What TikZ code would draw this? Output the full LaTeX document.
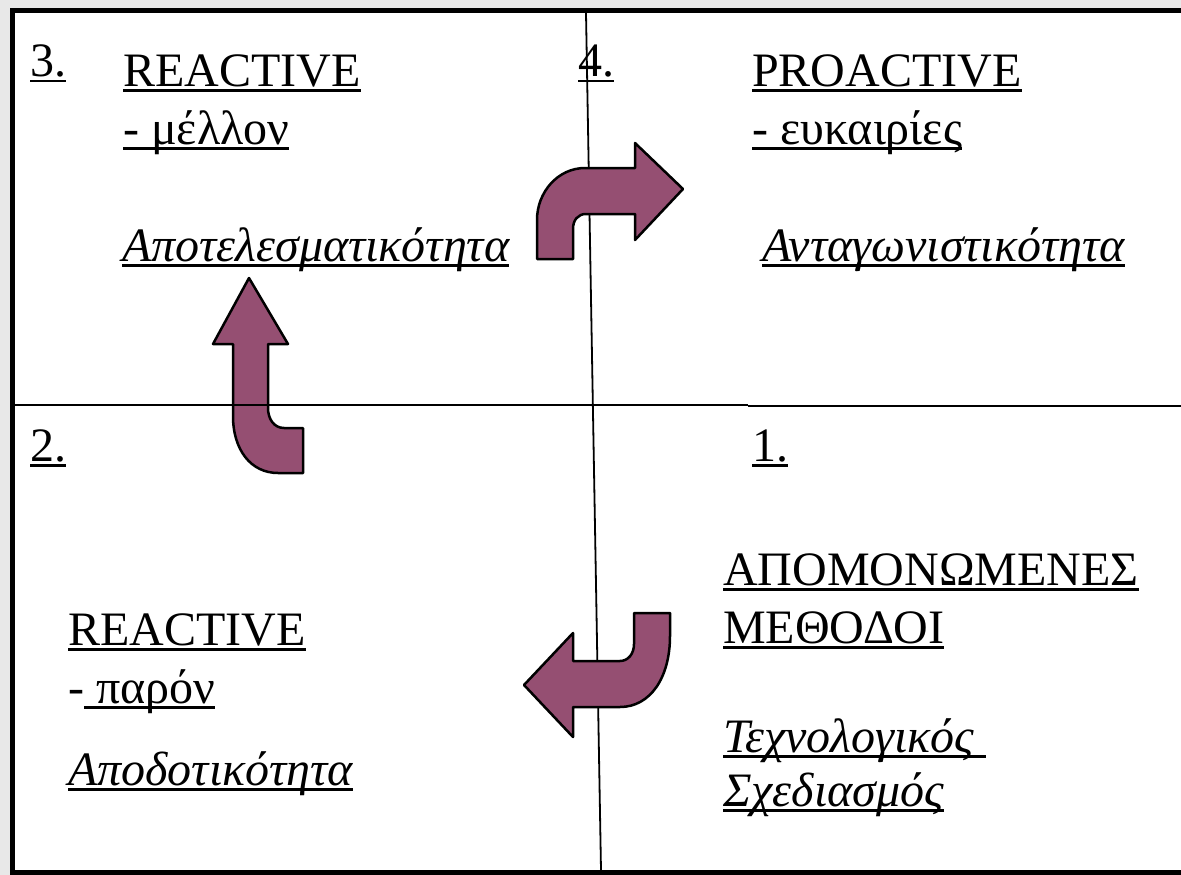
\documentclass[tikz,border=0pt]{standalone}
\usepackage{fontspec}
\setmainfont{Liberation Serif}
\definecolor{arrowfill}{RGB}{149,79,114}
\definecolor{bggray}{RGB}{232,232,232}
\newcommand\myul[1]{\setbox0=\hbox{#1}\rlap{\rule[-5.5pt]{\wd0}{2.5pt}}\box0}
\begin{document}
\begin{tikzpicture}[x=1pt,y=-1pt,
  lbl/.style={anchor=base west, inner sep=0pt, font=\fontsize{48}{58}\selectfont},
  bent/.style={fill=arrowfill, draw=black, line width=2.5pt, line join=round},
  divider/.style={draw=black, line width=2pt}]
\useasboundingbox (0,0) rectangle (1181,875);
\clip (0,0) rectangle (1181,875);
\fill[bggray] (0,0) rectangle (1181,875);
\draw[fill=white, line width=5pt] (12.8,10.8) rectangle (1200,872.5);
% vertical divider
\coordinate (vtop) at (586,13);
\coordinate (vbot) at (601,870);
\draw[line width=1.8pt] (vtop) -- (vbot);
% arrow 1 (up then right)
\draw[bent] (537,259) -- (537,220) .. controls (537,192) and (558,168) .. (585,168)
  -- (635,168) -- (635,143) -- (683,189) -- (635,240) -- (635,214) -- (586,214)
  .. controls (578,214) and (573,220) .. (573,229) -- (573,259) -- cycle;
% arrow 3 (down then left)
\draw[bent] (670,613) -- (670,636) .. controls (670,678) and (650,707) .. (620,707)
  -- (573,707) -- (573,737) -- (524,685) -- (573,633) -- (573,661) -- (620,661)
  .. controls (628,661) and (634,654) .. (634,644) -- (634,613) -- cycle;
% arrow 2 (right then up)
\draw[bent] (249,278) -- (288,344) -- (268,344) -- (268,408)
  .. controls (268,419) and (274,428) .. (284,428) -- (303,428) -- (303,473) -- (278,473)
  .. controls (251,473) and (233,450) .. (233,416) -- (233,344) -- (213,344) -- cycle;
% horizontal divider
\coordinate (h1) at (15,404.5);
\coordinate (h2) at (455,404.5);
\coordinate (h3) at (455,405.3);
\coordinate (h4) at (748,405.3);
\coordinate (h5) at (748,406);
\coordinate (h6) at (1181,406);
\draw[divider] (h1) -- (h2);
\draw[divider] (h3) -- (h4);
\draw[divider] (h5) -- (h6);
% quadrant 3
\node[lbl] (n3) at (30,77) {\myul{3.}};
\node[lbl] (r3a) at (123,86) {\myul{REACTIVE}};
\node[lbl] (r3b) at (123,144) {\myul{- μέλλον}};
\node[lbl] (r3c) at (122,261) {\myul{\itshape Αποτελεσματικότητα}};
% quadrant 4
\node[lbl] (n4) at (578,77) {\myul{4.}};
\node[lbl] (r4a) at (752,86) {\myul{PROACTIVE}};
\node[lbl] (r4b) at (752,144) {\myul{- ευκαιρίες}};
\node[lbl] (r4c) at (762,261) {\myul{\itshape Ανταγωνιστικότητα}};
% quadrant 2
\node[lbl] (n2) at (30,461) {\myul{2.}};
\node[lbl] (r2a) at (68,645) {\myul{REACTIVE}};
\node[lbl] (r2b) at (68,703) {-\myul{ παρόν}};
\node[lbl] (r2c) at (68,785) {\myul{\itshape Αποδοτικότητα}};
% quadrant 1
\node[lbl] (n1) at (752,461) {\myul{1.}};
\node[lbl] (r1a) at (723,585) {\myul{ΑΠΟΜΟΝΩΜΕΝΕΣ}};
\node[lbl] (r1b) at (723,643) {\myul{ΜΕΘΟΔΟΙ}};
\node[lbl] (r1c) at (723,752) {\myul{\itshape Τεχνολογικός }};
\node[lbl] (r1d) at (723,806) {\myul{\itshape Σχεδιασμός}};
\end{tikzpicture}
\end{document}
